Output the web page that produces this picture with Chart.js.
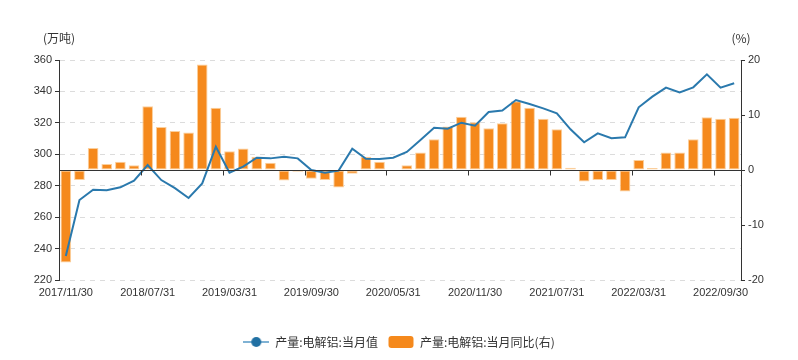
<!DOCTYPE html>
<html>
<head>
<meta charset="utf-8">
<script src="https://cdn.jsdelivr.net/npm/chart.js@4"></script>
<style>
  html, body { margin: 0; padding: 0; background: #fff; }
  #wrap { width: 798px; height: 360px; }
</style>
</head>
<body>
<div id="wrap"><canvas id="chart" width="798" height="360"></canvas></div>
<script>
const dates = [
  '2017/11/30', '2017/12/31',
  '2018/03/31', '2018/04/30', '2018/05/31', '2018/06/30', '2018/07/31', '2018/08/31', '2018/09/30', '2018/10/31', '2018/11/30', '2018/12/31',
  '2019/03/31', '2019/04/30', '2019/05/31', '2019/06/30', '2019/07/31', '2019/08/31', '2019/09/30', '2019/10/31', '2019/11/30', '2019/12/31',
  '2020/03/31', '2020/04/30', '2020/05/31', '2020/06/30', '2020/07/31', '2020/08/31', '2020/09/30', '2020/10/31', '2020/11/30', '2020/12/31',
  '2021/03/31', '2021/04/30', '2021/05/31', '2021/06/30', '2021/07/31', '2021/08/31', '2021/09/30', '2021/10/31', '2021/11/30', '2021/12/31',
  '2022/03/31', '2022/04/30', '2022/05/31', '2022/06/30', '2022/07/31', '2022/08/31', '2022/09/30', '2022/10/31'
];

// 产量:电解铝:当月值 (万吨)
const output = [
  235.3, 270.9, 277.5, 277.1, 279.0, 283.2, 293.2, 283.6, 278.5, 272.2,
  281.5, 304.8, 288.3, 292.1, 297.8, 297.4, 298.5, 297.4, 290.0, 288.3,
  289.6, 303.6, 297.2, 297.0, 297.8, 301.5, 309.1, 316.9, 316.3, 320.1,
  318.2, 326.9, 327.8, 334.5, 332.0, 329.2, 326.1, 315.9, 307.6, 313.3,
  310.2, 310.8, 329.9, 336.7, 342.4, 339.4, 342.6, 350.9, 342.4, 345.2
];

// 产量:电解铝:当月同比 (%)
const yoy = [
  -16.8, -1.8, 4.0, 1.1, 1.5, 0.85, 11.6, 7.8, 7.1, 6.8,
  19.2, 11.3, 3.4, 3.9, 2.4, 1.3, -1.9, -0.3, -1.6, -1.8,
  -3.2, -0.7, 2.4, 1.5, -0.1, 0.85, 3.2, 5.6, 7.9, 9.7,
  8.7, 7.6, 8.5, 12.5, 11.3, 9.3, 7.4, 0.4, -2.1, -1.8,
  -1.8, -3.9, 1.8, 0.35, 3.2, 3.2, 5.6, 9.6, 9.3, 9.5
];

const labelEvery = 6;
const lineColor = '#2a79ad';
const barColor = '#f5891c';
const textColor = '#333';
const fontFamily = '"Liberation Sans", Arial, sans-serif';
const cjkFont = '"Noto Sans CJK SC", "Liberation Sans", sans-serif';

// legend icons
function lineIcon() {
  const c = document.createElement('canvas');
  c.width = 26; c.height = 14;
  const g = c.getContext('2d');
  g.strokeStyle = '#7fb2d4';
  g.lineWidth = 2;
  g.beginPath(); g.moveTo(0, 7); g.lineTo(26, 7); g.stroke();
  g.fillStyle = '#2170a3';
  g.beginPath(); g.arc(13, 7, 5, 0, Math.PI * 2); g.fill();
  return c;
}
function boxIcon() {
  const c = document.createElement('canvas');
  c.width = 26; c.height = 14;
  const g = c.getContext('2d');
  g.fillStyle = barColor;
  g.beginPath();
  g.roundRect(0.5, 1, 25, 12, 3);
  g.fill();
  return c;
}

// zero axis line with tick marks + unit labels
const axisExtras = {
  id: 'axisExtras',
  afterDatasetsDraw(chart) {
    const { ctx, chartArea, scales } = chart;
    const x = scales.x, y1 = scales.y1;
    const y0 = Math.round(y1.getPixelForValue(0)) + 0.5;
    const step = x.getPixelForValue(1) - x.getPixelForValue(0);
    ctx.save();
    ctx.strokeStyle = textColor;
    ctx.lineWidth = 1;
    ctx.beginPath();
    ctx.moveTo(chartArea.left, y0);
    ctx.lineTo(chartArea.right, y0);
    for (let i = labelEvery; i < dates.length; i += labelEvery) {
      const px = Math.round(x.getPixelForValue(i) - step / 2) + 0.5;
      ctx.moveTo(px, y0);
      ctx.lineTo(px, y0 + 5);
    }
    ctx.stroke();

    ctx.fillStyle = textColor;
    ctx.font = '12px ' + cjkFont;
    ctx.textAlign = 'center';
    ctx.textBaseline = 'middle';
    ctx.fillText('(万吨)', chartArea.left, chartArea.top - 22);
    ctx.fillText('(%)', chartArea.right, chartArea.top - 22);
    ctx.restore();
  }
};

new Chart(document.getElementById('chart').getContext('2d'), {
  data: {
    labels: dates,
    datasets: [
      {
        type: 'line',
        label: '产量:电解铝:当月值',
        data: output,
        yAxisID: 'y',
        borderColor: lineColor,
        borderWidth: 2,
        pointRadius: 0,
        tension: 0,
        order: 0
      },
      {
        type: 'bar',
        label: '产量:电解铝:当月同比(右)',
        data: yoy,
        yAxisID: 'y1',
        backgroundColor: barColor,
        borderColor: '#fbcf9c',
        borderWidth: 1,
        borderSkipped: false,
        barPercentage: 1,
        categoryPercentage: 0.78,
        order: 1
      }
    ]
  },
  options: {
    responsive: false,
    animation: false,
    layout: { padding: { top: 60, left: 0, right: 0, bottom: 2 } },
    plugins: {
      tooltip: { enabled: false },
      legend: {
        position: 'bottom',
        labels: {
          usePointStyle: true,
          pointStyleWidth: 26,
          padding: 10,
          color: textColor,
          font: { size: 12, family: cjkFont },
          generateLabels(chart) {
            return chart.data.datasets.map((ds, i) => ({
              text: ds.label,
              pointStyle: i === 0 ? lineIcon() : boxIcon(),
              fillStyle: 'transparent',
              strokeStyle: 'transparent',
              lineWidth: 0,
              fontColor: textColor,
              datasetIndex: i,
              hidden: false
            }));
          }
        }
      }
    },
    scales: {
      x: {
        type: 'category',
        grid: { display: false, drawTicks: false },
        border: { display: false },
        ticks: {
          autoSkip: false,
          maxRotation: 0,
          padding: 6,
          color: textColor,
          font: { size: 11, family: fontFamily },
          callback(value, index) {
            return index % labelEvery === 0 ? dates[index] : null;
          }
        },
        afterFit(scale) { scale.height = 46; }
      },
      y: {
        position: 'left',
        min: 220,
        max: 360,
        ticks: {
          stepSize: 20,
          padding: 3,
          color: textColor,
          font: { size: 11, family: fontFamily }
        },
        grid: {
          color: '#dcdcdc',
          tickColor: textColor,
          tickLength: 4,
          tickBorderDash: []
        },
        border: { display: true, color: textColor, dash: [5, 5] },
        afterFit(scale) { scale.width = 59; }
      },
      y1: {
        position: 'right',
        min: -20,
        max: 20,
        ticks: {
          stepSize: 10,
          padding: 3,
          color: textColor,
          font: { size: 11, family: fontFamily }
        },
        grid: {
          drawOnChartArea: false,
          tickColor: textColor,
          tickLength: 4
        },
        border: { display: true, color: textColor },
        afterFit(scale) { scale.width = 57; }
      }
    }
  },
  plugins: [axisExtras]
});
</script>
</body>
</html>
